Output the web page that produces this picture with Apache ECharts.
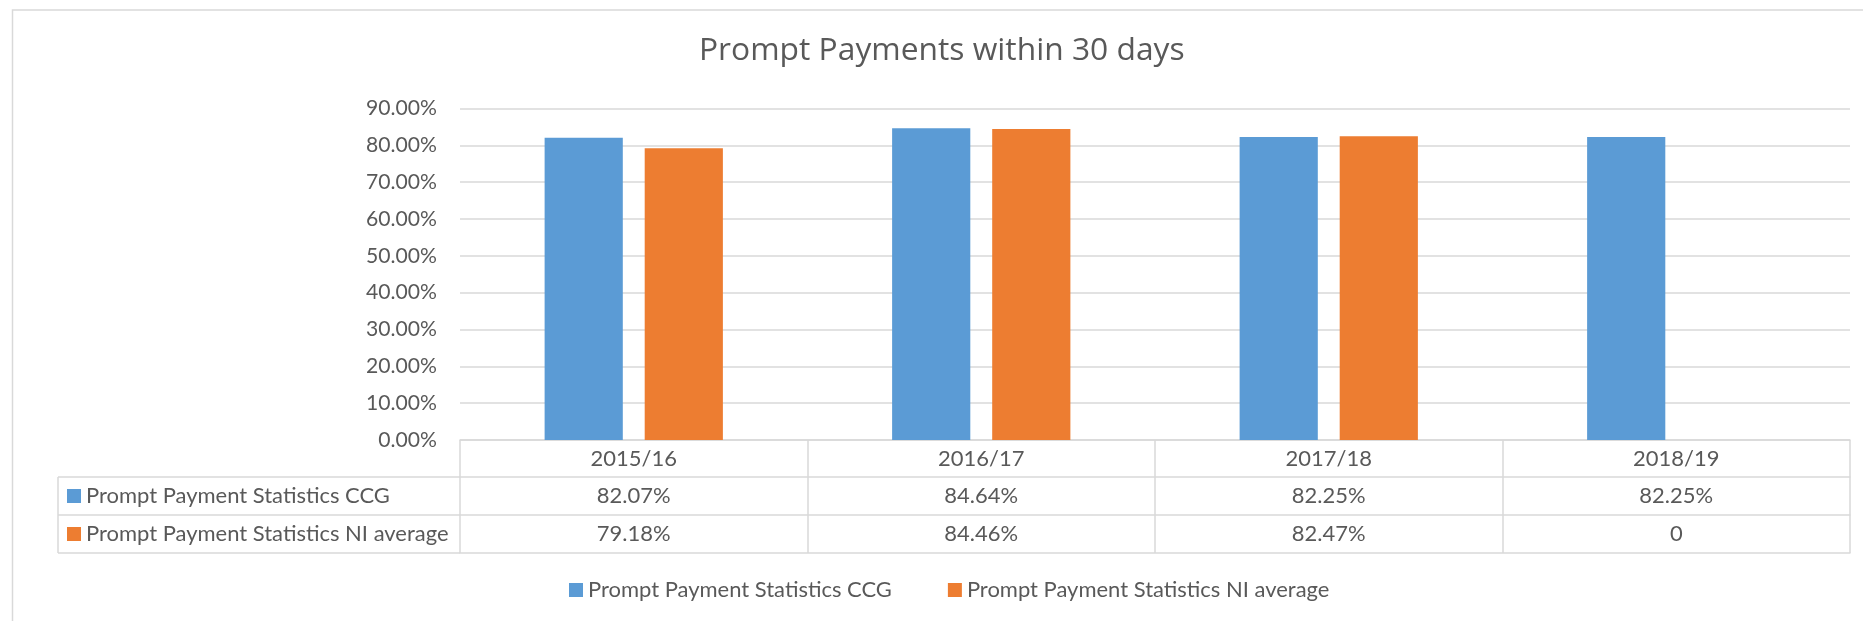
<!DOCTYPE html>
<html>
<head>
<meta charset="utf-8">
<script src="https://cdn.jsdelivr.net/npm/echarts@6/dist/echarts.min.js"></script>
<style>
  html, body { margin: 0; padding: 0; background: #ffffff; }
  #chart { width: 1863px; height: 621px; }
</style>
</head>
<body>
<div id="chart"></div>
<script>
// ---- data ----
const titleText = 'Prompt Payments within 30 days';
const categories = ['2015/16', '2016/17', '2017/18', '2018/19'];
const seriesNames = ['Prompt Payment Statistics CCG', 'Prompt Payment Statistics NI average'];
const ccgValues = [0.8207, 0.8464, 0.8225, 0.8225];
const niValues = [0.7918, 0.8446, 0.8247, 0];
const yMin = 0, yMax = 0.9, yStep = 0.1;

// ---- styling helpers ----
const bodyFamily = 'Lato';
const titleFamily = '"Open Sans"';
const textColor = '#595959';
const lineColor = '#d9d9d9';
const blue = '#5b9bd5';
const orange = '#ed7d31';

const mctx = document.createElement('canvas').getContext('2d');
function fitSize(text, target, family) {
  mctx.font = '100px ' + family;
  return 100 * target / mctx.measureText(text).width;
}
const bodySize = fitSize(seriesNames[0], 304, bodyFamily);
const yLabelSize = fitSize('90.00%', 71, bodyFamily);
const titleSize = fitSize(titleText, 486, titleFamily);

function pctCell(v) { return v === 0 ? '0' : (v * 100).toFixed(2) + '%'; }

function tableAxis(offset, rowH, formatter, showTicks) {
  return {
    type: 'category', data: categories, gridIndex: 0, position: 'bottom', offset: offset,
    boundaryGap: true,
    axisLine: { show: true, lineStyle: { color: lineColor, width: 1.5 } },
    axisTick: { show: showTicks, interval: 0, length: rowH, lineStyle: { color: lineColor, width: 1.5 } },
    axisLabel: {
      show: !!formatter, interval: 0, margin: 0, formatter: formatter,
      color: textColor, fontFamily: bodyFamily, fontSize: bodySize, lineHeight: rowH
    },
    splitLine: { show: false }
  };
}

const chart = echarts.init(document.getElementById('chart'), null, { renderer: 'canvas' });

const legendCommon = {
  orient: 'horizontal', padding: 0, itemWidth: 14, itemHeight: 14, icon: 'rect',
  selectedMode: false,
  textStyle: { color: textColor, fontFamily: bodyFamily, fontSize: bodySize, lineHeight: 24 }
};

chart.setOption({
  animation: false,
  backgroundColor: '#ffffff',
  title: {
    text: titleText, left: 699, top: 51 - titleSize / 2, padding: 0,
    textStyle: { color: textColor, fontFamily: titleFamily, fontWeight: 'normal', fontSize: titleSize, lineHeight: titleSize }
  },
  legend: [
    Object.assign({}, legendCommon, { data: seriesNames, left: 569, top: 578, itemGap: 56 }),
    Object.assign({}, legendCommon, { data: [seriesNames[0]], left: 67, top: 484 }),
    Object.assign({}, legendCommon, { data: [seriesNames[1]], left: 67, top: 522 })
  ],
  grid: { left: 460, right: 13, top: 108.5, bottom: 181, containLabel: false },
  xAxis: [
    tableAxis(0, 37, function (v) { return v; }, true),
    tableAxis(37, 38, function (v, i) { return pctCell(ccgValues[i]); }, true),
    tableAxis(75, 38, function (v, i) { return pctCell(niValues[i]); }, true),
    tableAxis(113, 0, null, false)
  ],
  yAxis: {
    type: 'value', min: yMin, max: yMax, interval: yStep,
    axisLine: { show: false }, axisTick: { show: false },
    axisLabel: {
      margin: 23, color: textColor, fontFamily: bodyFamily, fontSize: yLabelSize,
      formatter: function (v) { return (v * 100).toFixed(2) + '%'; }
    },
    splitLine: { lineStyle: { color: lineColor, width: 1.5 } }
  },
  series: [
    { name: seriesNames[0], type: 'bar', data: ccgValues, xAxisIndex: 0, barWidth: '22.5%', barGap: '28%',
      itemStyle: { color: blue } },
    { name: seriesNames[1], type: 'bar', data: niValues, xAxisIndex: 0, barWidth: '22.5%', barGap: '28%',
      itemStyle: { color: orange } }
  ],
  graphic: [
    { type: 'rect', shape: { x: 12.5, y: 10, width: 1900, height: 700 }, silent: true,
      style: { fill: 'none', stroke: lineColor, lineWidth: 1.5 } },
    { type: 'line', shape: { x1: 58, y1: 477, x2: 460, y2: 477 }, silent: true, style: { stroke: lineColor, lineWidth: 1.5 } },
    { type: 'line', shape: { x1: 58, y1: 515, x2: 460, y2: 515 }, silent: true, style: { stroke: lineColor, lineWidth: 1.5 } },
    { type: 'line', shape: { x1: 58, y1: 553, x2: 460, y2: 553 }, silent: true, style: { stroke: lineColor, lineWidth: 1.5 } },
    { type: 'line', shape: { x1: 58, y1: 477, x2: 58, y2: 553 }, silent: true, style: { stroke: lineColor, lineWidth: 1.5 } }
  ]
});
</script>
</body>
</html>
